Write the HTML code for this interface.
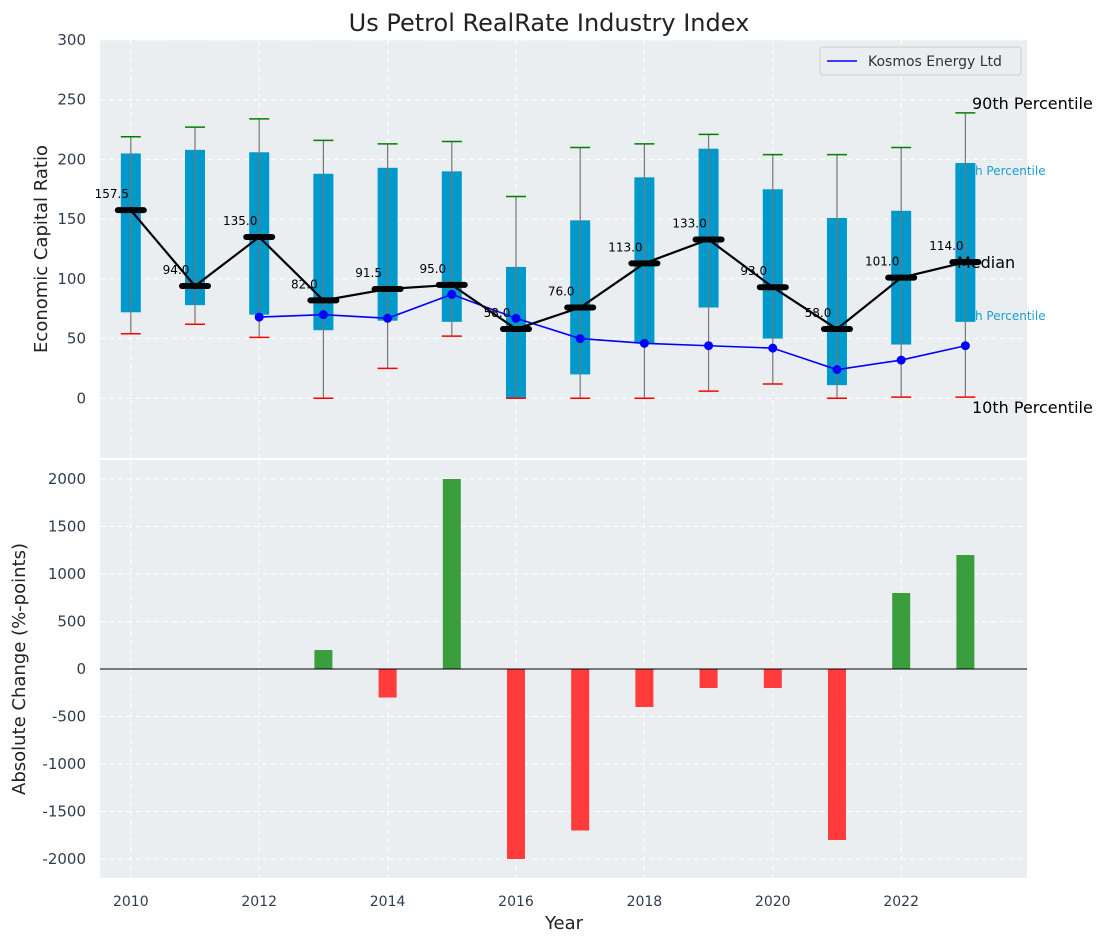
<!DOCTYPE html>
<html><head><meta charset="utf-8"><style>
body{margin:0;background:#fff;font-family:"Liberation Sans","DejaVu Sans",sans-serif}
svg text{font-family:"DejaVu Sans","Liberation Sans",sans-serif}
</style></head><body>
<svg id="c" width="1107" height="942" xmlns="http://www.w3.org/2000/svg"></svg>
<script>
const years=[2010,2011,2012,2013,2014,2015,2016,2017,2018,2019,2020,2021,2022,2023];
const q25=[72,78,70,57,65,64,0,20,46,76,50,11,45,64];
const q75=[205,208,206,188,193,190,110,149,185,209,175,151,157,197];
const p10=[54,62,51,0,25,52,0,0,0,6,12,0,1,1];
const p90=[219,227,234,216,213,215,169,210,213,221,204,204,210,239];
const medians=[157.5,94,135,82,91.5,95,58,76,113,133,93,58,101,114];
const kosYears=[2012,2013,2014,2015,2016,2017,2018,2019,2020,2021,2022,2023];
const kosVals=[68,70,67,87,67,50,46,44,42,24,32,44];
const chgYears=[2013,2014,2015,2016,2017,2018,2019,2020,2021,2022,2023];
const chgVals=[200,-300,2000,-2000,-1700,-400,-200,-200,-1800,800,1200];
const topTicks=[0,50,100,150,200,250,300];
const botTicks=[-2000,-1500,-1000,-500,0,500,1000,1500,2000];
const xTicks=[2010,2012,2014,2016,2018,2020,2022];

const NS="http://www.w3.org/2000/svg",svg=document.getElementById('c');
function el(t,a,p){const e=document.createElementNS(NS,t);for(const k in a)e.setAttribute(k,a[k]);(p||svg).appendChild(e);return e;}
const L=100,R=1027,T1=40,B1=458,T2=460,B2=878;
const x=v=>L+(v-2009.52)/(2023.96-2009.52)*(R-L);
const y1=v=>T1+(300-v)/350*(B1-T1);
const y2=v=>T2+(2200-v)/4400*(B2-T2);
const TC='#2e3d4f';

let g=el('rect',{x:L,y:T1,width:R-L,height:B1-T1,fill:'#eaeef0'});

g=el('rect',{x:L,y:T2,width:R-L,height:B2-T2,fill:'#eaeef0'});

xTicks.forEach(v=>{
 el('line',{x1:x(v),x2:x(v),y1:T1,y2:B1,stroke:'#fff','stroke-dasharray':'5,4','stroke-width':1});
 el('line',{x1:x(v),x2:x(v),y1:T2,y2:B2,stroke:'#fff','stroke-dasharray':'5,4','stroke-width':1});
 const t=el('text',{x:x(v),y:906,'font-size':14,fill:TC,'text-anchor':'middle'});t.textContent=v;
 
});
topTicks.forEach(v=>{
 el('line',{x1:L,x2:R,y1:y1(v),y2:y1(v),stroke:'#fff','stroke-dasharray':'5,4'});
 const t=el('text',{x:86,y:y1(v)+5,'font-size':15,fill:TC,'text-anchor':'end'});t.textContent=v;
 
});
botTicks.forEach(v=>{
 el('line',{x1:L,x2:R,y1:y2(v),y2:y2(v),stroke:'#fff','stroke-dasharray':'5,4'});
 const t=el('text',{x:86,y:y2(v)+5,'font-size':15,fill:TC,'text-anchor':'end'});t.textContent=v;
 
});
let t=el('text',{x:955,y:175,'font-size':12,fill:'#1a9fd0'});t.textContent='75th Percentile';

t=el('text',{x:955,y:320,'font-size':12,fill:'#1a9fd0'});t.textContent='25th Percentile';

years.forEach((yr,i)=>{
 const cx=x(yr);
 let b=el('rect',{x:cx-10,y:y1(q75[i]),width:20,height:y1(q25[i])-y1(q75[i]),fill:'#0099cc'});
 
 el('line',{x1:cx,x2:cx,y1:y1(p90[i]),y2:y1(p10[i]),stroke:'#777','stroke-width':1.2});
 el('line',{x1:cx-10,x2:cx+10,y1:y1(p90[i]),y2:y1(p90[i]),stroke:'green','stroke-width':1.5});
 el('line',{x1:cx-10,x2:cx+10,y1:y1(p10[i]),y2:y1(p10[i]),stroke:'red','stroke-width':1.5});
});
el('polyline',{points:kosYears.map((v,i)=>x(v)+','+y1(kosVals[i])).join(' '),fill:'none',stroke:'blue','stroke-width':1.6});
kosYears.forEach((v,i)=>{const c=el('circle',{cx:x(v),cy:y1(kosVals[i]),r:4.5,fill:'blue'});
 });
el('polyline',{points:years.map((v,i)=>x(v)+','+y1(medians[i])).join(' '),fill:'none',stroke:'#000','stroke-width':2.2});
years.forEach((v,i)=>{
 const m=el('line',{x1:x(v)-13,x2:x(v)+13,y1:y1(medians[i]),y2:y1(medians[i]),stroke:'#000','stroke-width':6,'stroke-linecap':'round'});
 
 const l=el('text',{x:x(v)-19,y:y1(medians[i])-12,'font-size':12,fill:'#000','text-anchor':'middle'});l.textContent=medians[i].toFixed(1);
 
});
t=el('text',{x:972,y:109,'font-size':16,fill:'#000'});t.textContent='90th Percentile';

t=el('text',{x:957,y:268,'font-size':16,fill:'#000'});t.textContent='Median';

t=el('text',{x:972,y:413,'font-size':16,fill:'#000'});t.textContent='10th Percentile';

g=el('g',{});
el('rect',{x:820,y:47,width:201,height:28,fill:'#eaeef0',stroke:'#ccc',rx:3},g);
el('line',{x1:827,x2:857,y1:61,y2:61,stroke:'blue','stroke-width':1.6},g);
t=el('text',{x:868,y:66,'font-size':14,fill:'#333'},g);t.textContent='Kosmos Energy Ltd';
chgYears.forEach((v,i)=>{
 const val=chgVals[i];
 const r=el('rect',{x:x(v)-9,y:Math.min(y2(val),y2(0)),width:18,height:Math.abs(y2(val)-y2(0)),fill:val>=0?'#3a9e3e':'#ff3b3b'});
 
});
el('line',{x1:L,x2:R,y1:y2(0),y2:y2(0),stroke:'#000','stroke-width':1});
t=el('text',{x:549,y:31,'font-size':24,fill:'#222','text-anchor':'middle'});t.textContent='Us Petrol RealRate Industry Index';

t=el('text',{x:0,y:0,'font-size':18,fill:'#222','text-anchor':'middle',transform:'translate(47,249) rotate(-90)'});t.textContent='Economic Capital Ratio';

t=el('text',{x:0,y:0,'font-size':18,fill:'#222','text-anchor':'middle',transform:'translate(25,669) rotate(-90)'});t.textContent='Absolute Change (%-points)';

t=el('text',{x:564,y:929,'font-size':18,fill:'#222','text-anchor':'middle'});t.textContent='Year';

</script></body></html>
